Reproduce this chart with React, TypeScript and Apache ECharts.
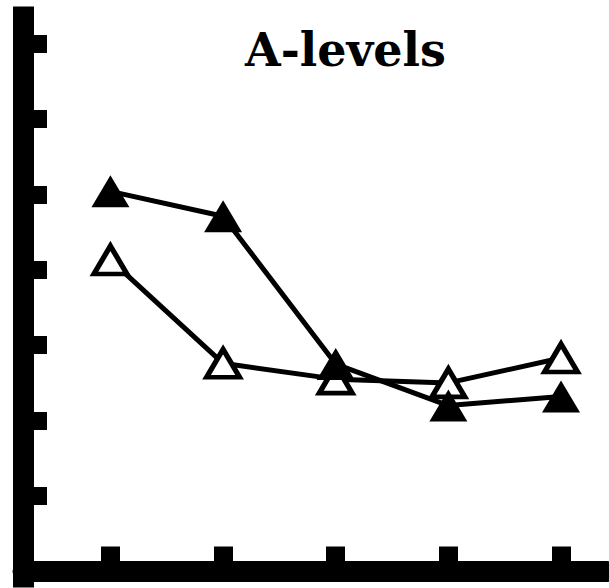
import React, { useEffect, useRef } from "react";
import * as echarts from "echarts";

const categories = [1, 2, 3, 4, 5];
const filledValues = [5.04, 4.71, 2.75, 2.2, 2.32];
const openValues = [4.13, 2.76, 2.55, 2.5, 2.83];
const yTicks = [1, 2, 3, 4, 5, 6, 7];
const titleText = "A-levels";

export default function App() {
  const ref = useRef<HTMLDivElement>(null);
  useEffect(() => {
    if (!ref.current) return;
    const chart = echarts.init(ref.current, undefined, { renderer: "svg" });
    const openData = categories.map((c, i) => [c, openValues[i]]);
    const filledData = categories.map((c, i) => [c, filledValues[i]]);
    chart.setOption({
      animation: false,
      backgroundColor: "#ffffff",
      title: {
        text: titleText,
        left: 240,
        top: 22,
        textStyle: {
          fontFamily: "DejaVu Serif",
          fontWeight: "bold",
          fontSize: 46,
          color: "#000",
        },
      },
      grid: { left: 23, right: 2, top: 17, bottom: 11 },
      xAxis: {
        type: "value",
        min: 0.224,
        max: 5.408,
        axisLine: { show: true, lineStyle: { color: "#000", width: 21 } },
        axisTick: {
          show: true,
          inside: true,
          length: 25,
          customValues: categories,
          lineStyle: { color: "#000", width: 19 },
        },
        axisLabel: { show: false },
        splitLine: { show: false },
      },
      yAxis: {
        type: "value",
        min: -0.073,
        max: 7.351,
        axisLine: { show: true, lineStyle: { color: "#000", width: 21, cap: "square" } },
        axisTick: {
          show: true,
          inside: true,
          length: 24,
          customValues: yTicks,
          lineStyle: { color: "#000", width: 18 },
        },
        axisLabel: { show: false },
        splitLine: { show: false },
      },
      series: [
        {
          name: "open",
          type: "line",
          data: openData,
          symbol: "triangle",
          symbolSize: [33, 28],
          lineStyle: { color: "#000", width: 5 },
          itemStyle: { color: "#fff", borderColor: "#000", borderWidth: 5 },
          z: 2,
        },
        {
          name: "filled",
          type: "line",
          data: filledData,
          symbol: "triangle",
          symbolSize: [38, 32],
          lineStyle: { color: "#000", width: 5 },
          itemStyle: { color: "#000", borderColor: "#000", borderWidth: 0 },
          z: 3,
        },
      ],
    });
    return () => chart.dispose();
  }, []);
  return (
    <div
      ref={ref}
      style={{ position: "absolute", left: 0, top: 0, width: 609, height: 588 }}
    />
  );
}
